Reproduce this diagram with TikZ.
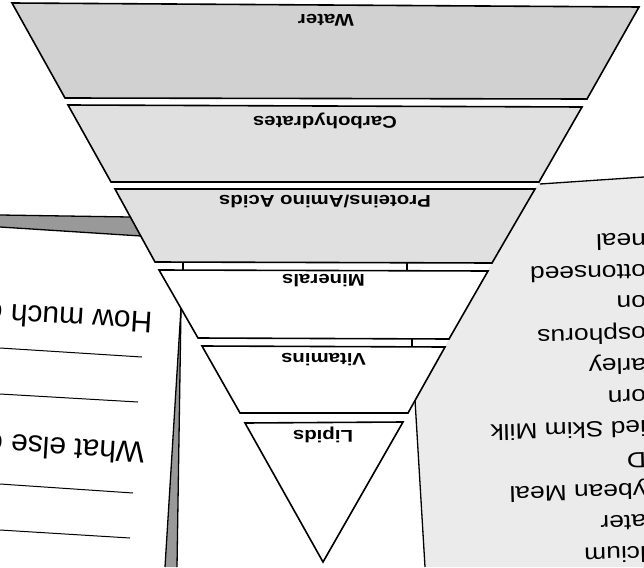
\documentclass[tikz,border=0pt]{standalone}
\usepackage{fontspec}
\setmainfont{Liberation Sans}
\newfontfamily\widesans[FakeStretch=1.2]{Liberation Sans}
\usetikzlibrary{positioning}

\definecolor{watergray}{gray}{0.82}
\definecolor{dotgray}{gray}{0.88}
\definecolor{sheetgray}{gray}{0.92}
\definecolor{edgegray}{gray}{0.6}

\begin{document}
\begin{tikzpicture}[
			x=1pt, y=-1pt,
			layer/.style={draw, line width=1.6pt, line join=miter},
			lbl/.style={font=\widesans\bfseries\fontsize{17}{18}\selectfont, rotate=180, inner sep=0pt},
			listtext/.style={font=\widesans\fontsize{22}{24}\selectfont, rotate=181.5, anchor=base west, inner sep=0pt},
			asktext/.style={font=\fontsize{30}{32}\selectfont, rotate=176.4, anchor=base west, inner sep=0pt},
			sheetedge/.style={line width=1.3pt},
			rule/.style={line width=1pt},
			tick/.style={line width=1.2pt}
		]
		\fill[white] (0,0) rectangle (644,567);
		\useasboundingbox (0,0) rectangle (644,567);

		% right sheet behind the pyramid
		\fill[sheetgray] (540,184) -- (644,177) -- (644,567) -- (425,567) -- (415,400) -- (445,347) -- (449,339)
			-- (488,271) -- (492,263) -- (535,189) -- (539,182) -- cycle;
		\draw[sheetedge] (540,184) -- (644,177);
		\draw[sheetedge] (415,400) -- (425,567);
		\foreach \t [count=\i from 0] in {neal, ottonseed, on, osphorus, arley, orn, ied Skim Milk, D, ybean Meal, ater, lcium}
			\node[listtext] (item\i) at (646,{233+31.3*\i}) {\t};

		% left sheet
		\fill[edgegray] (0,215) -- (130,217) -- (141,236) -- (0,227) -- cycle;
		\draw[sheetedge] (0,215) -- (130,217);
		\draw[sheetedge] (0,227) -- (141,236);
		\fill[edgegray] (181,308) -- (165,567) -- (177,567) -- cycle;
		\draw[sheetedge] (181,308) -- (165,567);
		\draw[sheetedge] (181,308) -- (177,567);
		\node[asktext] (howmuch) at (153,313) {How much c};
		\node[asktext] (whatelse) at (145,443) {What else c};
		\draw[rule] (0,348) -- (142,357);
		\draw[rule] (0,394) -- (138,402);
		\draw[rule] (0,484) -- (133,493);
		\draw[rule] (0,530) -- (130,538);

		% pyramid layers
		\filldraw[layer, fill=watergray] (12,3) -- (639,7) -- (587,99) -- (65,98) -- cycle;
		\filldraw[layer, fill=dotgray] (68,105) -- (582,107) -- (539,182) -- (111,182) -- cycle;
		\filldraw[layer, fill=dotgray] (115,189) -- (535,189) -- (492,263) -- (155,262) -- cycle;
		\filldraw[layer, fill=white] (159,270) -- (488,271) -- (449,339) -- (198,338) -- cycle;
		\filldraw[layer, fill=white] (202,346) -- (445,347) -- (408,413) -- (240,413) -- cycle;
		\filldraw[layer, fill=white] (245,423) -- (403,422) -- (323,562) -- cycle;
		\draw[tick] (183,262) -- (183,270);
		\draw[tick] (407,263) -- (407,271);
		\draw[tick] (412,339) -- (412,346);

		\node[lbl] (water) at (326,20) {Water};
		\node[lbl] (carbs) at (325,121) {Carbohydrates};
		\node[lbl] (proteins) at (325,201) {Proteins/Amino Acids};
		\node[lbl] (minerals) at (323.5,281) {Minerals};
		\node[lbl] (vitamins) at (323.5,360) {Vitamins};
		\node[lbl] (lipids) at (323,435) {Lipids};
	\end{tikzpicture}
\end{document}
